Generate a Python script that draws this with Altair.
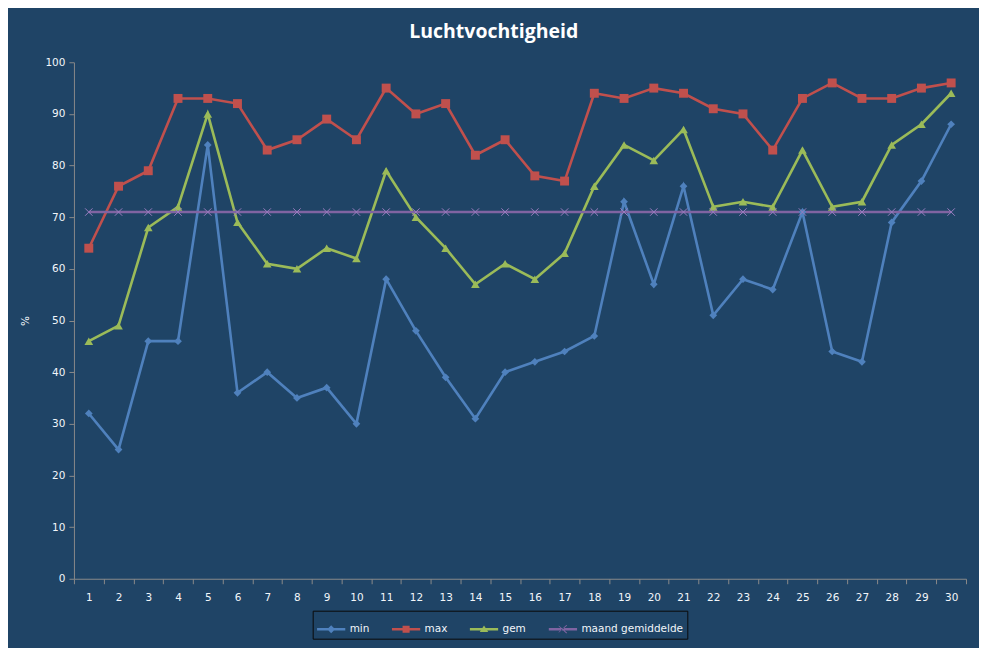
import altair as alt
import pandas as pd

# Luchtvochtigheid per dag (%)
dagen = list(range(1, 31))
minimum = [32, 25, 46, 46, 84, 36, 40, 35, 37, 30, 58, 48, 39, 31, 40,
           42, 44, 47, 73, 57, 76, 51, 58, 56, 71, 44, 42, 69, 77, 88]
maximum = [64, 76, 79, 93, 93, 92, 83, 85, 89, 85, 95, 90, 92, 82, 85,
           78, 77, 94, 93, 95, 94, 91, 90, 83, 93, 96, 93, 93, 95, 96]
gemiddeld = [46, 49, 68, 72, 90, 69, 61, 60, 64, 62, 79, 70, 64, 57, 61,
             58, 63, 76, 84, 81, 87, 72, 73, 72, 83, 72, 73, 84, 88, 94]
maand_gemiddelde = [71] * 30

reeksen = ["min", "max", "gem", "maand gemiddelde"]
kleuren = ["#4F81BD", "#C0504D", "#9BBB59", "#8064A2"]

BG = "#1F4466"
AXIS_GREY = "#8A8A8A"
TEXT = "#F2F6FA"
X_PATH = "M-1,-1L1,1M-1,1L1,-1"

frames = []
for naam, waarden in zip(reeksen, [minimum, maximum, gemiddeld, maand_gemiddelde]):
    frames.append(pd.DataFrame({"dag": dagen, "waarde": waarden, "reeks": naam}))
df = pd.concat(frames, ignore_index=True)

# legend symbols: a short bar with the series marker in the middle (fill only)
legend_paths = [
    "M-1,-0.09H1V0.09H-1Z M0,-0.28L0.28,0L0,0.28L-0.28,0Z",
    "M-1,-0.09H1V0.09H-1Z M-0.25,-0.25H0.25V0.25H-0.25Z",
    "M-1,-0.09H1V0.09H-1Z M0,-0.26L0.3,0.2H-0.3Z",
    "M-1,-0.09H1V0.09H-1Z M-0.3,-0.26L0.3,0.26L0.24,0.3L-0.3,-0.2Z M-0.3,0.26L0.3,-0.26L0.24,-0.3L-0.3,0.2Z",
]

x_enc = alt.X(
    "dag:O",
    title=None,
    bandPosition=0.5,
    scale=alt.Scale(type="band", paddingInner=0, paddingOuter=0),
    axis=alt.Axis(labelAngle=0, tickBand="extent", labelPadding=9),
)
y_enc = alt.Y(
    "waarde:Q",
    title="%",
    scale=alt.Scale(domain=[0, 100]),
    axis=alt.Axis(values=list(range(0, 101, 10)), grid=False, titlePadding=14,
                  labelPadding=4),
)
kleur_schaal = alt.Scale(domain=reeksen, range=kleuren)

legenda = alt.Legend(
    orient="none",
    legendX=239,
    legendY=549,
    direction="horizontal",
    symbolSize=800,
    symbolStrokeWidth=0,
    columnPadding=22,
    labelOffset=4,
    padding=4,
    strokeColor="#0A0A0A",
)

lijnen = alt.Chart(df).mark_line(strokeWidth=2.6).encode(
    x=x_enc, y=y_enc,
    color=alt.Color("reeks:N", scale=kleur_schaal, legend=None),
)

marker_lagen = []
for naam, kleur, vorm, grootte in zip(reeksen[:3], kleuren[:3],
                                      ["diamond", "square", "triangle-up"],
                                      [60, 80, 75]):
    marker_lagen.append(
        alt.Chart(df).transform_filter(alt.datum.reeks == naam)
        .mark_point(filled=True, opacity=1, shape=vorm, size=grootte, color=kleur)
        .encode(x=x_enc, y=y_enc)
    )
marker_lagen.append(
    alt.Chart(df).transform_filter(alt.datum.reeks == reeksen[3])
    .mark_point(shape=X_PATH, filled=False, size=55, strokeWidth=1,
                color="#9A7CC0", opacity=1)
    .encode(x=x_enc, y=y_enc)
)

# empty layer that only carries the legend
legenda_laag = alt.Chart(df).transform_filter(alt.datum.waarde < 0).mark_point(
    filled=True, opacity=1
).encode(
    x=x_enc, y=y_enc,
    color=alt.Color("reeks:N", title=None, scale=kleur_schaal, legend=legenda),
    shape=alt.Shape("reeks:N", title=None,
                    scale=alt.Scale(domain=reeksen, range=legend_paths),
                    legend=legenda),
)

chart = alt.layer(legenda_laag, lijnen, *marker_lagen).properties(
    width=893,
    height=517,
    background=BG,
    padding={"left": 12, "top": 13, "right": 12, "bottom": 8},
    title=alt.TitleParams("Luchtvochtigheid", fontSize=19.5, font="Open Sans",
                          fontWeight="bold", color="white", offset=15,
                          frame="bounds"),
).configure_view(
    stroke=None
).configure_axis(
    domainColor=AXIS_GREY,
    tickColor=AXIS_GREY,
    tickSize=5,
    labelColor=TEXT,
    titleColor=TEXT,
    labelFont="DejaVu Sans",
    titleFont="DejaVu Sans",
    labelFontSize=10.5,
    titleFontSize=10.5,
    titleFontWeight="normal",
).configure_legend(
    labelColor=TEXT,
    labelFont="DejaVu Sans",
    labelFontSize=10.5,
)

chart.save("out.html", embed_options={"renderer": "svg", "actions": False})
